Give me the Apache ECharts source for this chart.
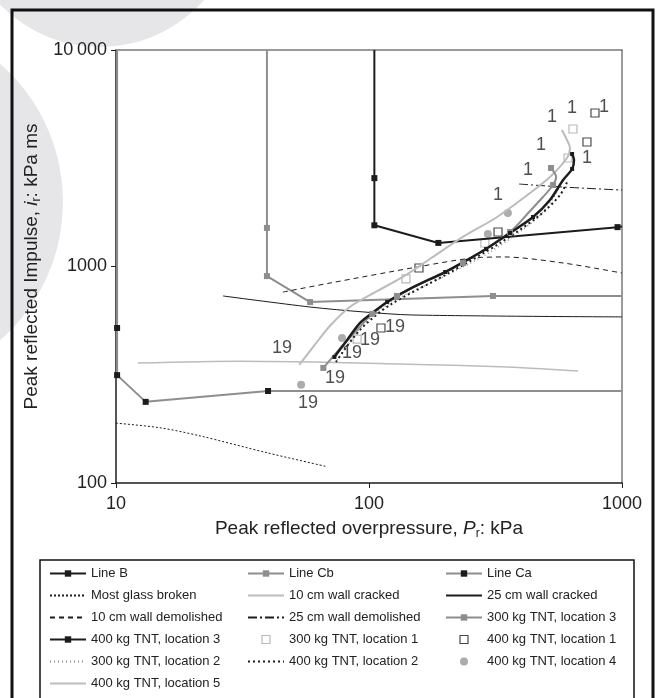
<!DOCTYPE html>
<html>
<head>
<meta charset="utf-8">
<script src="https://cdn.jsdelivr.net/npm/echarts@6/dist/echarts.min.js"></script>
<style>
  html, body { margin: 0; padding: 0; background: #fff; }
  #chart { width: 659px; height: 698px; }
</style>
</head>
<body>
<div id="chart"></div>
<script>
// reference lines (P in kPa, i in kPa ms)
const lineB = [[105, 10000], [105, 2560], [105, 1550], [188, 1285], [960, 1520], [1000, 1530]];
const lineBMarks = [1, 2, 3, 4];
const lineCb = [[39.5, 10000], [39.5, 1507], [39.5, 903], [58.5, 685], [309, 731], [1000, 731]];
const lineCbMarks = [1, 2, 3, 4];
const lineCa = [[10.1, 10000], [10.1, 520], [10.1, 315], [13.1, 237], [39.9, 266], [1000, 266]];
const lineCaMarks = [1, 2, 3, 4];

const glassBroken = [[10, 189], [14.9, 180], [21.5, 165], [39.5, 138], [68.2, 119]];
const wall10Cracked = [[12.2, 358], [30.9, 365], [133, 355], [330, 344], [670, 329]];
const wall25Cracked = [[26.5, 731], [58.5, 650], [94.6, 617], [149, 597], [1000, 585]];
const wall10Demolished = [[45.7, 762], [70.2, 839], [159, 1000], [250, 1090], [339, 1107], [585, 1038], [1000, 933]];
const wall25Demolished = [[392, 2404], [585, 2328], [1000, 2254]];

// TNT curves and points
const tnt300loc3 = [[66, 340], [77, 420], [92, 526], [103, 604], [129, 731], [174, 876], [235, 1038],
  [361, 1443], [433, 1805], [487, 2094], [534, 2379], [549, 2591], [524, 2851]];
const tnt300loc3Marks = [0, 3, 4, 6, 7, 10, 12];
const tnt400loc3 = [[73, 382], [82, 458], [92, 548], [103, 610], [118, 686], [145, 788], [200, 943],
  [244, 1072], [290, 1204], [361, 1428], [445, 1693], [519, 2028], [585, 2509], [635, 2820], [646, 3104], [635, 3308]];
const tnt400loc3Marks = [0, 4, 6, 8, 9, 10, 13, 15];
const tnt300loc2 = [[75, 370], [94, 531], [121, 679], [200, 904], [301, 1167], [453, 1640], [529, 2028], [569, 2379]];
const tnt400loc2 = [[74, 362], [92, 509], [121, 664], [200, 913], [330, 1284], [474, 1730], [569, 2139], [612, 2509]];
const tnt400loc5 = [[53, 351], [61, 434], [70, 531], [84, 650], [108, 771], [136, 895], [174, 1083], [235, 1369],
  [321, 1693], [433, 2185], [519, 2591], [606, 3171], [623, 3526], [606, 3840], [579, 4271]];
const tnt300loc1 = [[89.7, 462], [140, 876], [287, 1284], [612, 3171], [640, 4316]];
const tnt400loc1 = [[111.5, 520], [157.6, 984], [323.6, 1443], [727, 3759], [782, 5117]];
const tnt400loc4 = [[53.9, 284], [78.2, 467], [295, 1413], [354, 1766]];

// distance labels
const labels19 = [[57.4, 234], [73.4, 305], [45.3, 420], [85.7, 399], [100.9, 458], [126.7, 525]];
const labels1 = [[323.6, 2139], [425, 2790], [478, 3640], [529, 4904], [635, 5397], [849, 5455], [727, 3171]];

const xTicks = { 10: "10", 100: "100", 1000: "1000" };
const yTicks = { 100: "100", 1000: "1000", 10000: "10\u2009000" };

const legendCol1 = ["Line B", "Most glass broken", "10 cm wall demolished", "400 kg TNT, location 3", "300 kg TNT, location 2", "400 kg TNT, location 5"];
const legendCol2 = ["Line Cb", "10 cm wall cracked", "25 cm wall demolished", "300 kg TNT, location 1", "400 kg TNT, location 2"];
const legendCol3 = ["Line Ca", "25 cm wall cracked", "300 kg TNT, location 3", "400 kg TNT, location 1", "400 kg TNT, location 4"];

const FONT = "Liberation Sans, Arial, sans-serif";
const BLACK = "#1c1c1c";
const GREY = "#8e8e8e";
const LIGHT = "#bcbcbc";
const SQUARE = "path://M0,0L10,0L10,10L0,10Z";

// legend icon tweaks
const plainLines = ["Most glass broken", "10 cm wall demolished", "300 kg TNT, location 2", "400 kg TNT, location 5",
  "10 cm wall cracked", "25 cm wall demolished", "400 kg TNT, location 2", "25 cm wall cracked"];
const hollowBoxes = { "300 kg TNT, location 1": "#a8a8a8", "400 kg TNT, location 1": BLACK };

function legendItem(name) {
  if (plainLines.includes(name)) return { name: name, itemStyle: { opacity: 0 } };
  if (hollowBoxes[name]) {
    return { name: name, icon: SQUARE, itemStyle: { color: "#fff", borderColor: hollowBoxes[name], borderWidth: 1.2 } };
  }
  if (name === "Line Ca") return { name: name, itemStyle: { color: BLACK } };
  return { name: name };
}

function withMarks(data, marks) {
  return data.map((d, i) => ({ value: d, symbol: marks.includes(i) ? "rect" : "none" }));
}

function line(name, data, color, width, type, extra) {
  return Object.assign({
    name: name,
    type: "line",
    data: data,
    symbol: "none",
    smooth: false,
    lineStyle: { color: color, width: width, type: type },
    itemStyle: { color: color },
    animation: false,
  }, extra || {});
}

const chart = echarts.init(document.getElementById("chart"));

const legendBase = {
  orient: "vertical",
  itemWidth: 36,
  itemHeight: 8,
  itemGap: 9,
  symbolKeepAspect: true,
  textStyle: { fontFamily: FONT, fontSize: 13, color: "#222" },
};

const axisName = {
  fontFamily: FONT, fontSize: 19, color: "#222",
  rich: {
    i: { fontFamily: FONT, fontSize: 19, fontStyle: "italic", color: "#222" },
    sub: { fontFamily: FONT, fontSize: 12, color: "#222", verticalAlign: "bottom", padding: [10, 0, 0, 0] },
  },
};

const option = {
  backgroundColor: "#fff",
  graphic: [
    { type: "circle", z: -10, shape: { cx: 100, cy: -92, r: 139 }, style: { fill: "#e6e6e8" } },
    { type: "circle", z: -10, shape: { cx: -120, cy: 202, r: 183 }, style: { fill: "#e6e6e8" } },
    { type: "rect", z: 100, shape: { x: 12, y: 10, width: 641, height: 720 }, style: { fill: "none", stroke: "#111", lineWidth: 3 } },
    { type: "rect", z: 100, shape: { x: 40, y: 560, width: 594, height: 170 }, style: { fill: "none", stroke: "#111", lineWidth: 1.5 } },
  ],
  grid: { left: 116, right: 37, top: 50, bottom: 215 },
  legend: [
    Object.assign({ left: 44, top: 562, data: legendCol1.map(legendItem) }, legendBase),
    Object.assign({ left: 242, top: 562, data: legendCol2.map(legendItem) }, legendBase),
    Object.assign({ left: 440, top: 562, data: legendCol3.map(legendItem) }, legendBase),
  ],
  xAxis: [
    {
      type: "log",
      logBase: 10,
      min: 10,
      max: 1000,
      name: "Peak reflected overpressure, {i|P}{sub|r}: kPa",
      nameLocation: "middle",
      nameGap: 35,
      nameTextStyle: axisName,
      axisLine: { lineStyle: { color: BLACK, width: 1.5 } },
      axisTick: { length: 5, lineStyle: { color: BLACK } },
      axisLabel: { fontFamily: FONT, fontSize: 18, color: "#222", margin: 12, formatter: (v) => xTicks[v] || "" },
      splitLine: { show: false },
      minorTick: { show: false },
    },
    {
      type: "log",
      logBase: 10,
      min: 10,
      max: 1000,
      position: "top",
      axisLine: { lineStyle: { color: "#7a7a7a", width: 1.5 } },
      axisTick: { show: false },
      axisLabel: { show: false },
      splitLine: { show: false },
    },
  ],
  yAxis: [
    {
      type: "log",
      logBase: 10,
      min: 100,
      max: 10000,
      name: "Peak reflected Impulse, {i|i}{sub|r}: kPa ms",
      nameLocation: "middle",
      nameGap: 67,
      nameTextStyle: axisName,
      axisLine: { lineStyle: { color: BLACK, width: 1.5 } },
      axisTick: { length: 5, lineStyle: { color: BLACK } },
      axisLabel: { fontFamily: FONT, fontSize: 18, color: "#222", margin: 9, formatter: (v) => yTicks[v] || "" },
      splitLine: { show: false },
      minorTick: { show: false },
    },
    {
      type: "log",
      logBase: 10,
      min: 100,
      max: 10000,
      position: "right",
      axisLine: { lineStyle: { color: "#7a7a7a", width: 1.5 } },
      axisTick: { show: false },
      axisLabel: { show: false },
      splitLine: { show: false },
    },
  ],
  series: [
    line("Line B", withMarks(lineB, lineBMarks), BLACK, 2, "solid", { symbol: "rect", symbolSize: 6 }),
    line("Line Cb", withMarks(lineCb, lineCbMarks), GREY, 2, "solid", { symbol: "rect", symbolSize: 6 }),
    line("Line Ca", withMarks(lineCa, lineCaMarks), GREY, 2, "solid",
      { symbol: "rect", symbolSize: 6, itemStyle: { color: BLACK } }),
    line("Most glass broken", glassBroken, BLACK, 1, [2, 2], { smooth: 0.3 }),
    line("10 cm wall cracked", wall10Cracked, LIGHT, 1.5, "solid", { smooth: 0.3 }),
    line("25 cm wall cracked", wall25Cracked, BLACK, 1, "solid", { smooth: 0.3 }),
    line("10 cm wall demolished", wall10Demolished, BLACK, 1, [5, 4], { smooth: 0.3 }),
    line("25 cm wall demolished", wall25Demolished, BLACK, 1, [9, 3, 2, 3], { smooth: 0.3 }),
    line("400 kg TNT, location 5", tnt400loc5, LIGHT, 2, "solid", { smooth: 0.3 }),
    line("300 kg TNT, location 2", tnt300loc2, GREY, 1.5, [1, 3], { smooth: 0.3 }),
    line("400 kg TNT, location 2", tnt400loc2, BLACK, 2, [2, 3], { smooth: 0.3 }),
    line("300 kg TNT, location 3", withMarks(tnt300loc3, tnt300loc3Marks), GREY, 2, "solid",
      { symbol: "rect", symbolSize: 6, smooth: 0.3 }),
    line("400 kg TNT, location 3", withMarks(tnt400loc3, tnt400loc3Marks), BLACK, 2.5, "solid",
      { symbol: "rect", symbolSize: 4, smooth: 0.3 }),
    {
      name: "300 kg TNT, location 1", type: "scatter", data: tnt300loc1, symbol: "rect", symbolSize: 8,
      itemStyle: { color: "#fff", borderColor: "#a8a8a8", borderWidth: 1.2 }, animation: false,
    },
    {
      name: "400 kg TNT, location 1", type: "scatter", data: tnt400loc1, symbol: "rect", symbolSize: 8,
      itemStyle: { color: "#fff", borderColor: BLACK, borderWidth: 1.2 }, animation: false,
    },
    {
      name: "400 kg TNT, location 4", type: "scatter", data: tnt400loc4, symbol: "circle", symbolSize: 8,
      itemStyle: { color: "#979797" }, animation: false,
    },
    {
      type: "scatter", data: labels19, symbolSize: 0, silent: true, animation: false, z: 5,
      label: { show: true, position: "inside", formatter: "19", fontFamily: FONT, fontSize: 18, color: "#222" },
    },
    {
      type: "scatter", data: labels1, symbolSize: 0, silent: true, animation: false, z: 5,
      label: { show: true, position: "inside", formatter: "1", fontFamily: FONT, fontSize: 18, color: "#222" },
    },
  ],
};

chart.setOption(option);
</script>
</body>
</html>
